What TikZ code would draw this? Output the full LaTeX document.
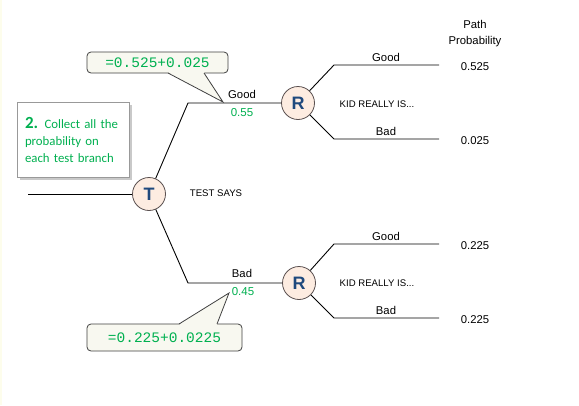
\documentclass[tikz,border=0pt]{standalone}
\usepackage{fontspec}
\setmainfont{Liberation Sans}
\newfontfamily\notefont{Carlito}
\newfontfamily\codefont{Liberation Mono}
\usetikzlibrary{shadows}
\definecolor{grn}{RGB}{0,176,80}
\definecolor{peach}{RGB}{253,236,225}
\definecolor{navy}{RGB}{31,73,125}
\definecolor{calfill}{RGB}{248,248,240}
\definecolor{edgegray}{RGB}{90,80,80}
\begin{document}
\begin{tikzpicture}[x=1pt,y=-1pt,
  chance/.style={circle,draw=edgegray,line width=0.8pt,fill=peach,minimum size=33pt,inner sep=0pt,
    text=navy,font=\bfseries\fontsize{18}{18}\selectfont},
  branch/.style={line width=0.9pt,draw=black},
  lbl/.style={font=\fontsize{11.3}{12}\selectfont,inner sep=0pt},
  caplbl/.style={font=\fontsize{9.6}{12}\selectfont,inner sep=0pt},
  glbl/.style={lbl,text=grn,font=\fontsize{11.5}{12}\selectfont},
  callbox/.style={draw=black!75,line width=0.8pt,fill=calfill,rounded corners=4pt,inner sep=0pt,
    text=grn,font=\codefont\fontsize{14.5}{15}\selectfont},
  callptr/.style={draw=black!75,line width=0.8pt}
]
\useasboundingbox (0,0) rectangle (579,405);
\fill[white] (0,0) rectangle (579,405);
\fill[calfill!80!yellow!30] (0,0) rectangle (2,405);

% header
\node[lbl] (path) at (475,24) {Path};
\node[lbl] (prob) at (475,42) {Probability};

% chance nodes
\node[chance] (T) at (149,194) {T};
\node[chance] (R1) at (298,103) {R};
\node[chance] (R2) at (299,283) {R};

\coordinate (root) at (28,194);
\coordinate (e1) at (188,103);
\coordinate (e2) at (188,283);
\coordinate (a1) at (334,65);  \coordinate (b1) at (439,65);
\coordinate (a2) at (334,139); \coordinate (b2) at (439,139);
\coordinate (a3) at (334,244); \coordinate (b3) at (439,244);
\coordinate (a4) at (334,318); \coordinate (b4) at (439,318);

\draw[branch] (root) -- (T);
\draw[branch] (T) -- (e1) -- (R1);
\draw[branch] (T) -- (e2) -- (R2);
\draw[branch] (R1) -- (a1) -- (b1);
\draw[branch] (R1) -- (a2) -- (b2);
\draw[branch] (R2) -- (a3) -- (b3);
\draw[branch] (R2) -- (a4) -- (b4);

% labels
\node[caplbl] (tsays) at (216,193) {TEST SAYS};
\node[caplbl] (kid1) at (377,104) {KID REALLY IS...};
\node[caplbl] (kid2) at (377,283) {KID REALLY IS...};
\node[lbl] (g0) at (242,94) {Good};
\node[glbl] (p0) at (242,113) {0.55};
\node[lbl] (b0) at (242,273) {Bad};
\node[glbl] (q0) at (243,292) {0.45};
\node[lbl] (g1) at (386,57) {Good};
\node[lbl] (bd1) at (386,131) {Bad};
\node[lbl] (g2) at (386,236) {Good};
\node[lbl] (bd2) at (386,310) {Bad};
\node[lbl] (v1) at (475,67) {0.525};
\node[lbl] (v2) at (475,141) {0.025};
\node[lbl] (v3) at (475,246) {0.225};
\node[lbl] (v4) at (475,320) {0.225};

% note box
\node[draw=black!40,line width=0.8pt,fill=white,minimum width=112pt,minimum height=75pt,
  text width=96pt,align=left,inner sep=0pt,text=grn,
  drop shadow={shadow xshift=3pt,shadow yshift=-3pt,fill=black!35,opacity=0.6},
  font=\notefont\fontsize{12.8}{17}\selectfont] (note) at (73,139.5)
  {{\bfseries\fontsize{17}{17}\selectfont 2.} Collect all the\\probability on\\each test branch};

% callout 1
\node[callbox,minimum width=141pt,minimum height=21pt] (c1) at (157.5,62.5) {=0.525+0.025};
\coordinate (t1) at (223,102);
\fill[calfill] (168,72.2) -- (t1) -- (204,72.2) -- cycle;
\draw[callptr] (168,73) -- (t1) -- (204,73);

% callout 2
\node[callbox,minimum width=155pt,minimum height=27pt] (c2) at (164.5,337.5) {=0.225+0.0225};
\coordinate (t2) at (229,293);
\fill[calfill] (179,324.8) -- (t2) -- (217,324.8) -- cycle;
\draw[callptr] (179,324) -- (t2) -- (217,324);
\end{tikzpicture}
\end{document}
